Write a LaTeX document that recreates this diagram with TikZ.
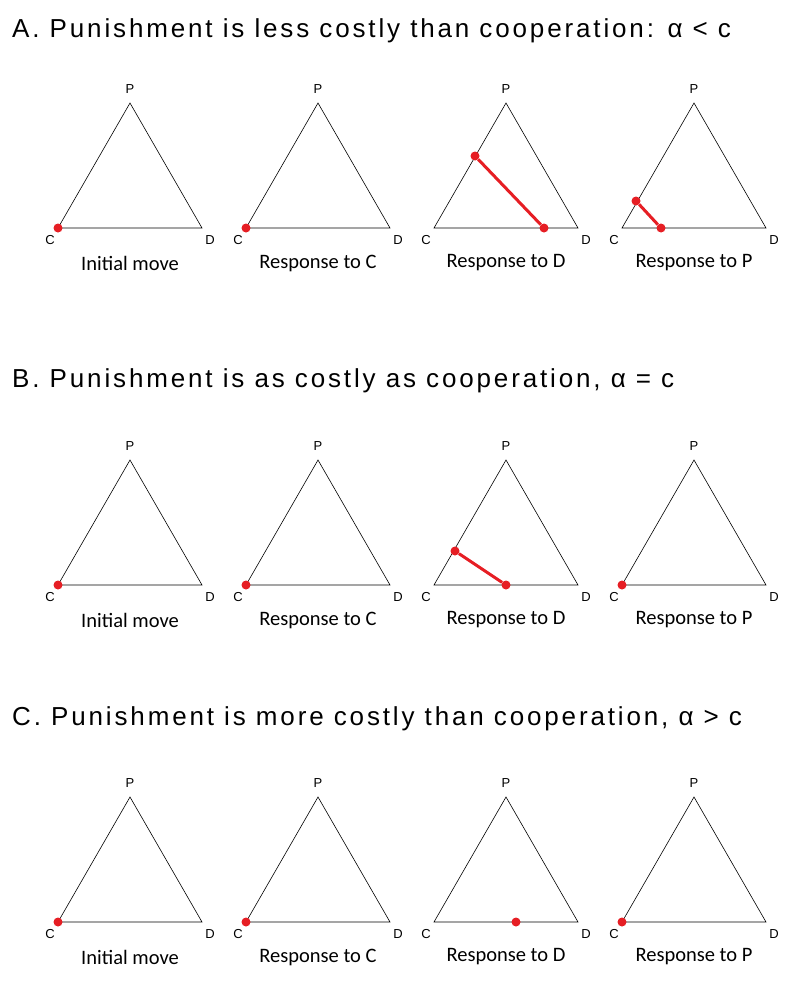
\documentclass[tikz,border=0pt]{standalone}
\usepackage{fontspec}
\setmainfont{Liberation Sans}
\newfontfamily\capfont{Carlito}
\newfontfamily\titlefont[LetterSpace=11]{Liberation Sans}
\usetikzlibrary{positioning,calc}
\definecolor{dotred}{RGB}{230,30,36}
\tikzset{
  vlabel/.style={font=\fontsize{13}{14}\selectfont, inner sep=0pt},
  caption/.style={font=\capfont\fontsize{20.5}{22}\selectfont, inner sep=0pt},
  rowtitle/.style={font=\titlefont\fontsize{26}{28}\selectfont, inner sep=0pt, anchor=west},
  dot/.style={circle, fill=dotred, inner sep=0pt, minimum size=9pt},
  seg/.style={dotred, line width=3pt},
}
\begin{document}
\begin{tikzpicture}[x=1pt,y=-1pt]
\useasboundingbox (0,0) rectangle (800,985);

\node[rowtitle] (titleA) at (12,31) {A. Punishment is less costly than cooperation: α < c};
\node[rowtitle] (titleB) at (12,381) {B. Punishment is as costly as cooperation, α = c};
\node[rowtitle] (titleC) at (12,719) {C. Punishment is more costly than cooperation, α > c};

% triangles: row / base y
\foreach \r/\by in {A/228,B/585,C/922}{
  \foreach \k/\cap in {1/Initial move,2/Response to C,3/Response to D,4/Response to P}{
    \coordinate (\r\k C) at ({58+188*(\k-1)},\by);
    \coordinate (\r\k D) at ({202+188*(\k-1)},\by);
    \coordinate (\r\k P) at ({130+188*(\k-1)},\by-125);
    \draw[line width=0.6pt] (\r\k C) -- (\r\k D) -- (\r\k P) -- cycle;
    \node[vlabel] (\r\k Cl) at ($(\r\k C)+(-8,12)$) {C};
    \node[vlabel] (\r\k Dl) at ($(\r\k D)+(8,12)$) {D};
    \node[vlabel] (\r\k Pl) at ($(\r\k P)+(0,-14)$) {P};
    \node[caption] (\r\k cap) at ($(\r\k C)!0.5!(\r\k D)+(0,35)$) {\cap};
  }
}

% strategies at the C corner
\foreach \n in {A1,A2,B1,B2,B4,C1,C2,C4}
  \node[dot] at (\n C) {};

% row A, response to D and P
\node[dot] (a3l) at (475,156) {};
\node[dot] (a3r) at (544,228) {};
\draw[seg] (a3l) -- (a3r);
\node[dot] (a4l) at (636,201) {};
\node[dot] (a4r) at (661,228) {};
\draw[seg] (a4l) -- (a4r);

% row B, response to D
\node[dot] (b3l) at (455,551) {};
\node[dot] (b3r) at (506,585) {};
\draw[seg] (b3l) -- (b3r);

% row C, response to D
\node[dot] (c3) at (516,922) {};
\end{tikzpicture}
\end{document}
